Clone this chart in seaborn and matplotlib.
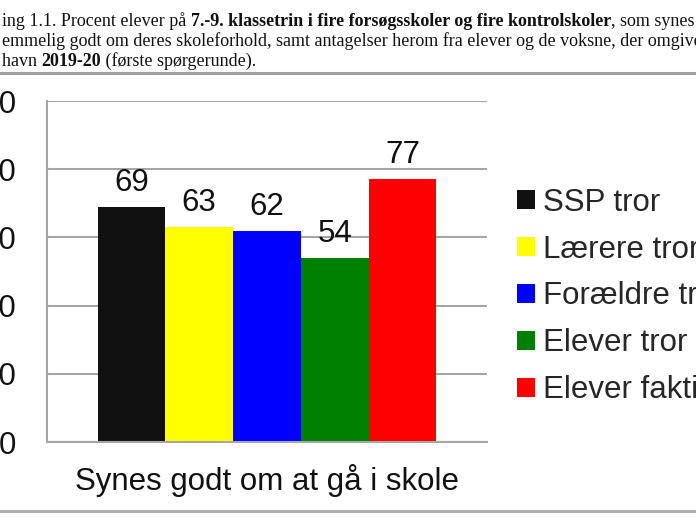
import matplotlib.pyplot as plt
import pandas as pd
import seaborn as sns
from matplotlib.lines import Line2D


CATEGORY = "Synes godt om at gå i skole"
GROUPS = ["SSP tror", "Lærere tror", "Forældre tror", "Elever tror", "Elever faktisk"]
VALUES = [69, 63, 62, 54, 77]
COLORS = ["#111111", "#ffff00", "#0000ff", "#008000", "#ff0000"]
Y_TICKS = [0, 20, 40, 60, 80, 100]

# caption lines, as (text, bold) pieces; the screenshot cuts them at the edges
CAPTION = [
    [("ing 1.1. Procent elever på ", False),
     ("7.-9. klassetrin i fire forsøgsskoler og fire kontrolskoler", True),
     (", som synes", False)],
    [("emmelig godt om deres skoleforhold, samt antagelser herom fra elever og de voksne, der omgiver", False)],
    [("havn ", False), ("2019-20", True), (" (første spørgerunde).", False)],
]

GRID_GREY = "#a6a6a6"
FONT_SIZE = 22.5


def draw_caption(fig: plt.Figure) -> None:
    """Write the mixed-weight caption piece by piece."""
    renderer = fig.canvas.get_renderer()
    baselines = [26, 46, 66]
    for pieces, base in zip(CAPTION, baselines):
        x = 2 / 696
        for text, bold in pieces:
            t = fig.text(x, 1 - base / 522, text, fontsize=12.95, family="Liberation Serif",
                         fontweight="bold" if bold else "normal", va="baseline", ha="left",
                         color="#111111")
            bb = t.get_window_extent(renderer)
            x += bb.width / fig.bbox.width


def main() -> None:
    sns.set_style("white")
    plt.rcParams["font.family"] = ["Liberation Sans", "DejaVu Sans"]

    df = pd.DataFrame({"Kategori": [CATEGORY] * len(GROUPS), "Gruppe": GROUPS, "Procent": VALUES})

    fig = plt.figure(figsize=(6.96, 5.22), dpi=100)
    ax = fig.add_axes([47 / 696, 1 - 442 / 522, 440 / 696, 341 / 522])

    sns.barplot(data=df, x="Kategori", y="Procent", hue="Gruppe", hue_order=GROUPS,
                palette=COLORS, saturation=1, width=0.77, linewidth=0, ax=ax)

    for container in ax.containers:
        ax.bar_label(container, padding=6.5, fontsize=FONT_SIZE, color="#111111")

    ax.set_xlim(-0.5, 0.5)
    ax.set_ylim(0, 100)
    ax.set_yticks(Y_TICKS)
    ax.set_xlabel("")
    ax.set_ylabel("")
    ax.yaxis.grid(True, color=GRID_GREY, linewidth=1.5)
    ax.set_axisbelow(True)
    for side in ["top", "right"]:
        ax.spines[side].set_visible(False)
    for side in ["left", "bottom"]:
        ax.spines[side].set_color(GRID_GREY)
        ax.spines[side].set_linewidth(1.5)
    ax.tick_params(axis="y", length=0, pad=22, labelsize=FONT_SIZE, labelcolor="#111111")
    ax.tick_params(axis="x", length=0, pad=16, labelsize=FONT_SIZE, labelcolor="#111111")

    handles, labels = ax.get_legend_handles_labels()
    if ax.get_legend() is not None:
        ax.get_legend().remove()
    fig.legend(handles, labels, loc="center left", bbox_to_anchor=(517 / 696, 1 - 296.5 / 522),
               frameon=False, fontsize=FONT_SIZE, handlelength=0.58, handleheight=0.58,
               handletextpad=0.26, labelspacing=0.54, borderpad=0, borderaxespad=0)

    draw_caption(fig)

    # grey page rules above and below the chart
    fig.add_artist(Line2D([0, 1], [1 - 73 / 522] * 2, color="#a0a0a0", linewidth=2.2,
                          transform=fig.transFigure))
    fig.add_artist(Line2D([0, 1], [1 - 511 / 522] * 2, color="#b0b0b0", linewidth=2.2,
                          transform=fig.transFigure))

    fig.savefig("out.png", dpi=100)
    plt.close(fig)


if __name__ == "__main__":
    main()
